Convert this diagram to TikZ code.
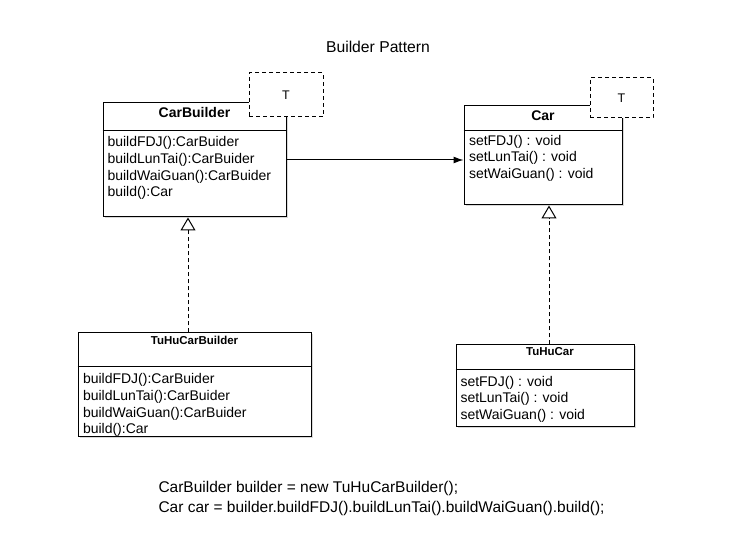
\documentclass[tikz,border=0pt]{standalone}
\usepackage{fontspec}
\setmainfont{Liberation Sans}
\usetikzlibrary{arrows.meta,positioning,shadows}

\begin{document}
\begin{tikzpicture} [x=1pt,y=-1pt,line width=1pt,
  class/.style={draw,fill=white,inner sep=0pt,drop shadow={shadow xshift=1.5pt,shadow yshift=-1.5pt,opacity=0.3}},
  param/.style={draw,dash pattern=on 4pt off 3pt,fill=white,inner sep=0pt,font=\fontsize{12.5}{15}\selectfont},
  classname/.style={font=\fontsize{14}{16}\selectfont\bfseries,inner sep=0pt,anchor=base},
  subname/.style={font=\fontsize{11.5}{14}\selectfont\bfseries,inner sep=0pt,anchor=base},
  ops/.style={font=\fontsize{14}{16.7}\selectfont,align=left,inner sep=0pt,anchor=north west},
  snippet/.style={font=\fontsize{15.5}{20}\selectfont,inner sep=0pt,anchor=west},
  realize/.style={dash pattern=on 4pt off 3pt,-{Triangle[open,length=13pt,width=15pt,fill=white]}}]

  \useasboundingbox (0,0) rectangle (756,553);

  \node[font=\fontsize{15.7}{18}\selectfont] (title) at (378,47) {Builder Pattern};

  \node[class,minimum width=183pt,minimum height=114pt] (1) at (194.5,160) {};
  \node[class,minimum width=158pt,minimum height=99pt] (2) at (543,155.5) {};
  \node[class,minimum width=233pt,minimum height=104pt] (3) at (194.5,385) {};
  \node[class,minimum width=178pt,minimum height=82pt] (4) at (545,386) {};

  \draw ([yshift=-28pt]1.north west) -- ([yshift=-28pt]1.north east);
  \draw ([yshift=-25pt]2.north west) -- ([yshift=-25pt]2.north east);
  \draw ([yshift=-34pt]3.north west) -- ([yshift=-34pt]3.north east);
  \draw ([yshift=-25pt]4.north west) -- ([yshift=-25pt]4.north east);

  \node[classname] (n1) at ([yshift=-15pt]1.north) {CarBuilder};
  \node[classname] (n2) at ([yshift=-15pt]2.north) {Car};
  \node[subname] (n3) at ([yshift=-12pt]3.north) {TuHuCarBuilder};
  \node[subname] (n4) at ([xshift=5pt,yshift=-11pt]4.north) {TuHuCar};

  \node[ops] (m1) at ([xshift=4.5pt,yshift=-33.5pt]1.north west)
    {buildFDJ():CarBuider\\buildLunTai():CarBuider\\buildWaiGuan():CarBuider\\build():Car};
  \node[ops] (m2) at ([xshift=5pt,yshift=-29pt]2.north west)
    {setFDJ() : void\\setLunTai() : void\\setWaiGuan() : void};
  \node[ops] (m3) at ([xshift=5pt,yshift=-40.5pt]3.north west)
    {buildFDJ():CarBuider\\buildLunTai():CarBuider\\buildWaiGuan():CarBuider\\build():Car};
  \node[ops] (m4) at ([xshift=4.5pt,yshift=-31pt]4.north west)
    {setFDJ() : void\\setLunTai() : void\\setWaiGuan() : void};

  \node[param,minimum width=74pt,minimum height=44pt] (t1) at (286,95) {T};
  \node[param,minimum width=63pt,minimum height=40pt] (t2) at (621.5,98) {T};

  \draw[-{Latex[length=10pt,width=7pt]}] (1.east) -- (2.west |- 1.east);
  \draw[realize] ([xshift=-6.5pt]3.north) -- ([xshift=-6.5pt]1.south);
  \draw[realize] ([xshift=4pt]4.north) -- ([xshift=6pt]2.south);

  \node[snippet] (c1) at (158,488) {CarBuilder builder = new TuHuCarBuilder();};
  \node[snippet] (c2) at (158,508) {Car car = builder.buildFDJ().buildLunTai().buildWaiGuan().build();};

\end{tikzpicture}
\end{document}
